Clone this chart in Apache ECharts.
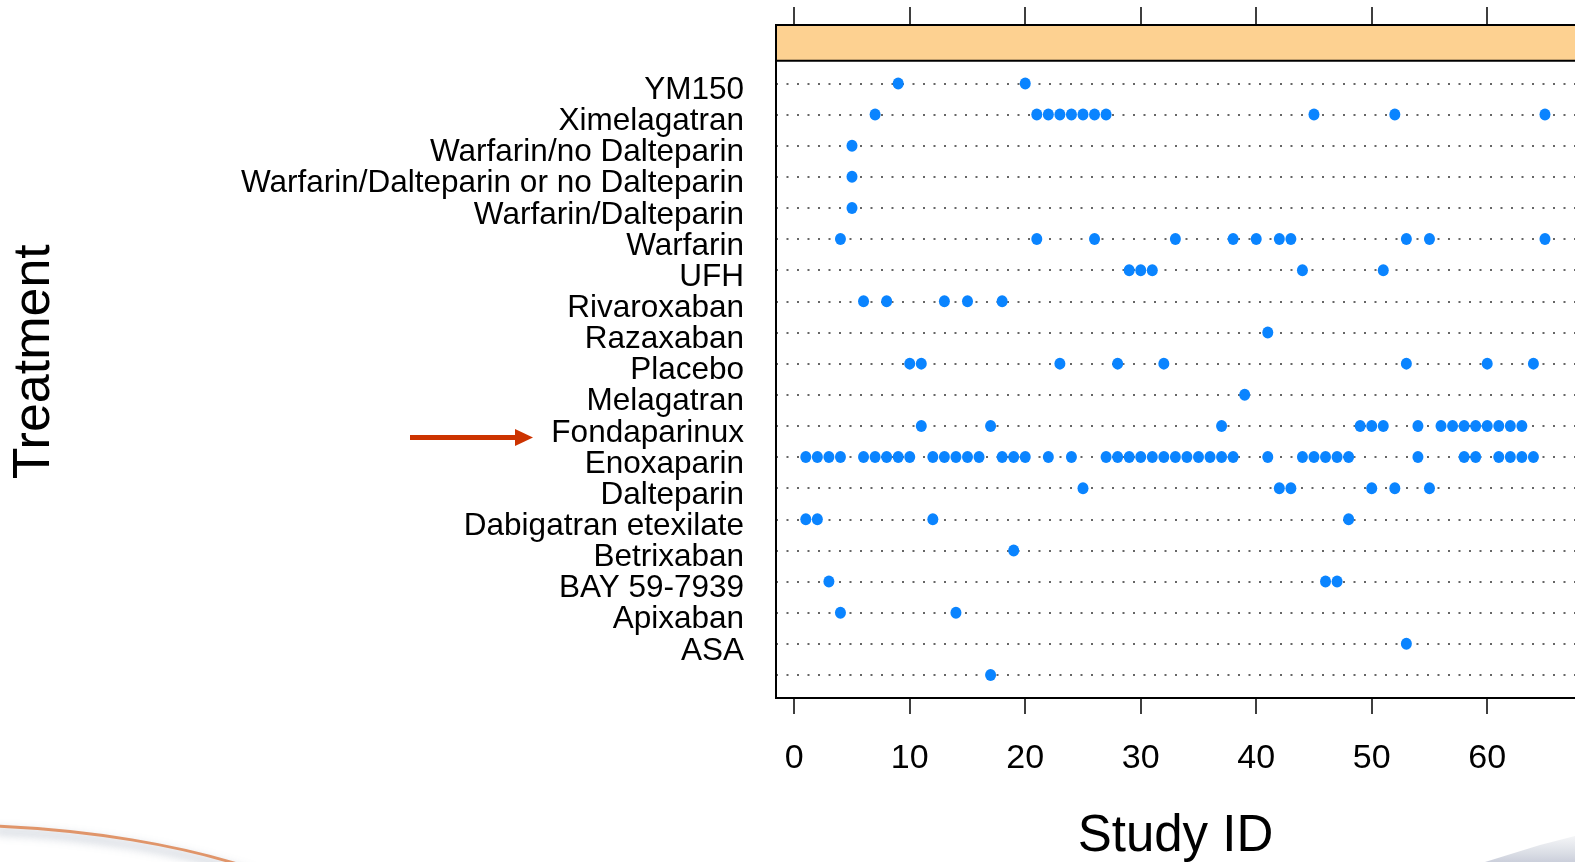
<!DOCTYPE html>
<html>
<head>
<meta charset="utf-8">
<script src="https://cdn.jsdelivr.net/npm/echarts@6/dist/echarts.min.js"></script>
<style>
html,body{margin:0;padding:0;background:#fff;}
#chart{width:1575px;height:862px;}
</style>
</head>
<body>
<div id="chart"></div>
<script>
// Treatments, top to bottom (last level has no label in the source)
const treatments = [
  'YM150', 'Ximelagatran', 'Warfarin/no Dalteparin', 'Warfarin/Dalteparin or no Dalteparin',
  'Warfarin/Dalteparin', 'Warfarin', 'UFH', 'Rivaroxaban', 'Razaxaban', 'Placebo',
  'Melagatran', 'Fondaparinux', 'Enoxaparin', 'Dalteparin', 'Dabigatran etexilate',
  'Betrixaban', 'BAY 59-7939', 'Apixaban', 'ASA', ''
];
// Study IDs in which each treatment appears (same order as treatments)
const studyIds = [
  [9, 20],
  [7, 21, 22, 23, 24, 25, 26, 27, 45, 52, 65],
  [5],
  [5],
  [5],
  [4, 21, 26, 33, 38, 40, 42, 43, 53, 55, 65],
  [29, 30, 31, 44, 51],
  [6, 8, 13, 15, 18],
  [41],
  [10, 11, 23, 28, 32, 53, 60, 64],
  [39],
  [11, 17, 37, 49, 50, 51, 54, 56, 57, 58, 59, 60, 61, 62, 63],
  [1, 2, 3, 4, 6, 7, 8, 9, 10, 12, 13, 14, 15, 16, 18, 19, 20, 22, 24, 27, 28, 29, 30, 31, 32, 33, 34, 35, 36, 37, 38, 41, 44, 45, 46, 47, 48, 54, 58, 59, 61, 62, 63, 64],
  [25, 42, 43, 50, 52, 55],
  [1, 2, 12, 48],
  [19],
  [3, 46, 47],
  [4, 14],
  [53],
  [17]
];
const xTicks = [0, 10, 20, 30, 40, 50, 60];
const xMin = -1.58;
const xMax = 67.6;

const points = [];
studyIds.forEach((ids, i) => ids.forEach(id => points.push([id, treatments[i]])));

const chart = echarts.init(document.getElementById('chart'), null, {renderer: 'canvas'});
const FONT = 'Liberation Sans, Arial, Helvetica, sans-serif';

chart.setOption({
  animation: false,
  backgroundColor: '#ffffff',
  grid: {left: 776, right: 0, top: 83.4, bottom: 187, containLabel: false, outerBoundsMode: 'none'},
  xAxis: [{
    type: 'value', position: 'bottom', min: xMin, max: xMax, offset: 24,
    axisLine: {show: false},
    splitLine: {show: false},
    axisTick: {show: true, customValues: xTicks, length: 15, lineStyle: {color: '#000', width: 1.5}},
    axisLabel: {show: true, customValues: xTicks, margin: 43, fontSize: 34, color: '#000', fontFamily: FONT},
    name: 'Study ID', nameLocation: 'middle', nameGap: 112,
    nameTextStyle: {fontSize: 51, color: '#000', fontFamily: FONT}
  }, {
    type: 'value', position: 'top', min: xMin, max: xMax, offset: 58.4,
    axisLine: {show: false},
    splitLine: {show: false},
    axisTick: {show: true, customValues: xTicks, length: 18, lineStyle: {color: '#000', width: 1.5}},
    axisLabel: {show: false}
  }],
  yAxis: {
    type: 'category', data: treatments, inverse: true, boundaryGap: false,
    axisLine: {show: false},
    axisTick: {show: false},
    axisLabel: {
      interval: 0, margin: 32, color: '#000', fontFamily: FONT, fontSize: 31.5,
      formatter: v => '{t|' + v + '}',
      rich: {t: {fontSize: 31.5, fontFamily: FONT, color: '#000', padding: [14, 0, 0, 0]}}
    },
    splitLine: {show: true, interval: 0, lineStyle: {color: '#666666', width: 2, type: [2, 8.5]}},
    name: 'Treatment', nameLocation: 'middle', nameGap: 715, nameRotate: 90,
    nameTextStyle: {fontSize: 52, color: '#000', fontFamily: FONT, padding: [0, 0, 0, 35]}
  },
  series: [{
    type: 'scatter', xAxisIndex: 0, data: points, symbol: 'circle', symbolSize: [11, 12],
    itemStyle: {color: '#0a84ff', opacity: 1}
  }],
  graphic: [
    // strip (panel header)
    {type: 'rect', z: 10, shape: {x: 776, y: 25, width: 810, height: 35.7},
     style: {fill: '#fdd191', stroke: '#000', lineWidth: 2}},
    // panel frame
    {type: 'rect', z: 10, shape: {x: 776, y: 25, width: 810, height: 673},
     style: {fill: 'none', stroke: '#000', lineWidth: 2}},
    // red arrow annotation
    {type: 'line', z: 10, shape: {x1: 410, y1: 437.5, x2: 518, y2: 437.5},
     style: {stroke: '#cc3300', lineWidth: 5}},
    {type: 'polygon', z: 10, shape: {points: [[515, 429], [533, 437.5], [515, 446]]},
     style: {fill: '#cc3300'}},
    // slide decorations
    {type: 'bezierCurve', z: 1, shape: {x1: -5, y1: 826, cpx1: 90, cpy1: 830, cpx2: 180, cpy2: 845, x2: 250, y2: 868},
     style: {stroke: '#e0956a', lineWidth: 3, fill: 'none', shadowBlur: 10, shadowColor: 'rgba(110,125,150,0.7)', shadowOffsetY: 5}},
    {type: 'polygon', z: 1, shape: {points: [[1485, 862], [1540, 845], [1575, 836], [1575, 862]]},
     style: {fill: new echarts.graphic.LinearGradient(0, 0, 0, 1, [{offset: 0, color: 'rgba(200,205,215,0.2)'}, {offset: 1, color: 'rgba(190,195,210,0.8)'}])}}
  ]
});
</script>
</body>
</html>
